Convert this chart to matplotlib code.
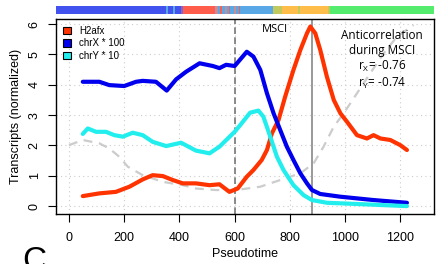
import numpy as np
import matplotlib
matplotlib.use("Agg")
import matplotlib.pyplot as plt
from matplotlib.colors import ListedColormap
from matplotlib.patches import Patch

# ---------------- data ----------------
h2afx_x = [50, 110, 170, 219, 267, 303, 340, 376, 412, 460, 509, 545, 581, 611, 644, 668, 698, 717, 735, 759,
           783, 813, 838, 862, 874, 892, 910, 934, 959, 983, 1007, 1043, 1079, 1103, 1128, 1164, 1200, 1224]
h2afx_y = [0.33, 0.42, 0.47, 0.64, 0.88, 1.02, 0.99, 0.86, 0.75, 0.75, 0.69, 0.72, 0.47, 0.58, 0.97, 1.19, 1.52, 1.85, 2.40, 2.84,
           3.61, 4.49, 5.15, 5.70, 5.92, 5.70, 5.15, 4.27, 3.50, 3.06, 2.78, 2.34, 2.23, 2.34, 2.23, 2.18, 2.01, 1.85]

chrx_x = [50, 110, 146, 200, 243, 267, 315, 354, 388, 424, 473, 521, 545, 569, 600, 644, 668, 693, 717, 741,
          765, 789, 813, 838, 862, 880, 910, 983, 1103, 1224]
chrx_y = [4.10, 4.10, 3.99, 3.96, 4.10, 4.13, 4.10, 3.81, 4.18, 4.43, 4.71, 4.62, 4.55, 4.66, 4.62, 5.09, 4.93, 4.49, 3.72, 3.06,
          2.51, 1.96, 1.52, 1.08, 0.75, 0.53, 0.40, 0.31, 0.20, 0.11]

chry_x = [50, 68, 98, 134, 164, 195, 231, 267, 303, 352, 406, 460, 509, 545, 600, 620, 656, 686, 704, 729,
          753, 777, 813, 850, 880, 934, 1043, 1224]
chry_y = [2.38, 2.56, 2.45, 2.45, 2.34, 2.29, 2.42, 2.34, 2.12, 1.98, 2.09, 1.83, 1.74, 1.96, 2.45, 2.67, 3.08, 3.15, 2.95, 2.29,
          1.63, 1.19, 0.69, 0.36, 0.20, 0.11, 0.07, 0.00]

ref_x = [0, 50, 110, 146, 182, 213, 267, 340, 412, 460, 533, 605, 693, 765, 838, 886, 922, 959, 995, 1043,
         1091, 1140, 1188, 1248]
ref_y = [2.01, 2.18, 2.07, 1.90, 1.63, 1.30, 1.02, 0.80, 0.69, 0.58, 0.53, 0.53, 0.64, 0.86, 1.08, 1.41, 1.96, 2.62, 3.06, 3.72,
         4.38, 5.04, 5.59, 5.97]

series_labels = ["H2afx", "chrX * 100", "chrY * 10"]
x_ticks = [0, 200, 400, 600, 800, 1000, 1200]
y_ticks = [0, 1, 2, 3, 4, 5, 6]
msci_start, msci_peak = 600, 880

# colour bar (cell stage annotation), runs of (category, count)
bar_runs = [('B', 110), ('L', 2), ('B', 5), ('L', 2), ('B', 6), ('P', 2), ('R', 32),
            ('M', 3), ('L', 2), ('R', 2), ('L', 3), ('M', 2), ('L', 2), ('R', 1), ('L', 4), ('M', 2), ('L', 3), ('R', 1), ('L', 6),
            ('L', 28), ('Y', 9), ('O', 16), ('Y', 2), ('O', 28), ('Y', 2), ('G', 104)]
bar_colors = {'B': '#4152ef', 'L': '#58a8e6', 'R': '#ff5c4c', 'P': '#8a62c2', 'M': '#c98b96',
              'Y': '#c2c95c', 'O': '#ffbd4a', 'G': '#53ec6c'}

# ---------------- figure ----------------
plt.rcParams['font.family'] = ['Liberation Sans', 'DejaVu Sans']
plt.rcParams['mathtext.default'] = 'regular'

fig = plt.figure(figsize=(4.47, 2.64), dpi=100)
L, R = 56 / 447, 434 / 447
B, T = 1 - 214 / 264, 1 - 19 / 264
ax = fig.add_axes([L, B, R - L, T - B])

c_red, c_blue, c_cyan = '#ff3300', '#0000ee', '#22eeee'

for gx in x_ticks:
    ax.axvline(gx, color='#cccccc', lw=0.8, ls=(0, (1, 3)), zorder=0)
for gy in y_ticks:
    ax.axhline(gy, color='#cccccc', lw=0.8, ls=(0, (1, 3)), zorder=0)

ax.plot(ref_x, ref_y, color='#cccccc', lw=1.6, ls=(0, (4, 3)), zorder=1)
ax.axvline(msci_start, color='#777777', lw=1.2, ls=(0, (4, 2)), zorder=2)
ax.axvline(msci_peak, color='#888888', lw=1.2, zorder=2)

ax.plot(h2afx_x, h2afx_y, color=c_red, lw=3, solid_capstyle='round', zorder=3)
ax.plot(chrx_x, chrx_y, color=c_blue, lw=3, solid_capstyle='round', zorder=3)
ax.plot(chry_x, chry_y, color=c_cyan, lw=3, solid_capstyle='round', zorder=3)

ax.set_xlim(-47, 1322)
ax.set_ylim(-0.26, 6.17)
ax.set_xticks(x_ticks)
ax.set_yticks(y_ticks)
ax.tick_params(direction='out', length=6, width=0.8, labelsize=9)
ax.tick_params(axis='x', pad=7)
ax.tick_params(axis='y', pad=5)
for lab in ax.get_yticklabels():
    lab.set_rotation(90)
    lab.set_va('center')
for s in ax.spines.values():
    s.set_linewidth(1.0)
ax.set_xlabel("Pseudotime", fontsize=9, labelpad=3)
ax.set_ylabel("Transcripts (normalized)", fontsize=9, labelpad=5)

handles = [Patch(facecolor=c, edgecolor='black', lw=0.8) for c in (c_red, c_blue, c_cyan)]
ax.legend(handles, series_labels, loc='upper left', frameon=False, fontsize=7,
          handlelength=0.8, handleheight=0.8, handletextpad=0.9, labelspacing=0.25,
          borderaxespad=0.3, bbox_to_anchor=(0.0, 1.0))

tfont = ['Open Sans', 'DejaVu Sans']
ax.text(747, 5.81, "MSCI", ha='center', va='center', fontsize=8, family=tfont)
ax.text(1135, 5.64, "Anticorrelation", ha='center', va='center', fontsize=8.5, family=tfont)
ax.text(1135, 5.12, "during MSCI", ha='center', va='center', fontsize=8.5, family=tfont)
ax.text(1135, 4.59, "r$_X$= -0.76", ha='center', va='center', fontsize=8.5, family=tfont)
ax.text(1135, 4.06, "r$_Y$= -0.74", ha='center', va='center', fontsize=8.5, family=tfont)

# colour bar
cats = []
for c, n in bar_runs:
    cats += [c] * n
keys = list(bar_colors.keys())
idx = np.array([[keys.index(c) for c in cats]])
cmap = ListedColormap([bar_colors[k] for k in keys])
cax = fig.add_axes([L, 1 - 14 / 264, R - L, 8.5 / 264])
cax.imshow(idx, aspect='auto', cmap=cmap, vmin=-0.5, vmax=len(keys) - 0.5, interpolation='nearest')
cax.set_axis_off()

fig.text(22 / 447, 1 - 246 / 264, "C", fontsize=24, va='top', ha='left')

fig.savefig("out.png", dpi=100)
